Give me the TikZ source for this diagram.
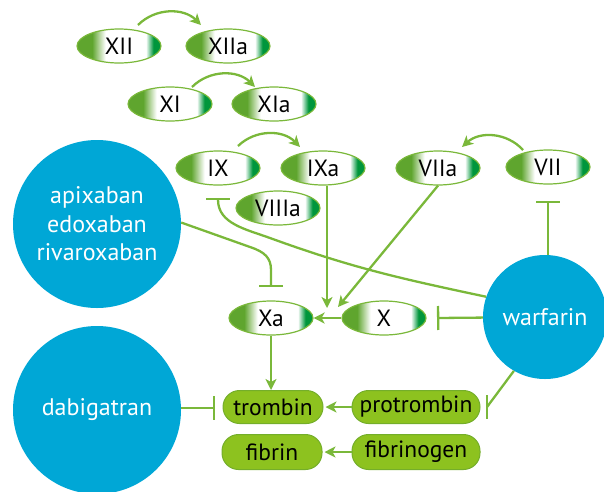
\documentclass[tikz,border=0pt]{standalone}
\usepackage{fontspec}
\setmainfont{PT Sans}
\usetikzlibrary{shapes.geometric,arrows.meta,calc}
\definecolor{lg}{HTML}{7AB83A}
\definecolor{gLeft}{HTML}{5FA52E}
\definecolor{gRight}{HTML}{00963C}
\definecolor{eborder}{HTML}{7AB83A}
\definecolor{pillg}{HTML}{8DC21F}
\definecolor{pillb}{HTML}{74AE2A}
\definecolor{dblue}{HTML}{00A7D6}
\pgfdeclarehorizontalshading{ellshade}{100bp}{color(0bp)=(gLeft); color(34bp)=(gLeft); color(42bp)=(white); color(66bp)=(white); color(70.5bp)=(gRight); color(100bp)=(gRight)}
\begin{document}
\begin{tikzpicture}[x=1pt,y=1pt,
  fac/.style={ellipse, minimum width=84pt, minimum height=34pt, inner sep=0pt,
    shade, shading=ellshade, draw=eborder, line width=1.2pt,
    font=\fontsize{23.5}{26}\selectfont},
  pill/.style={rectangle, rounded corners=16.5pt, minimum height=33pt, inner sep=0pt,
    fill=pillg, draw=pillb, line width=1pt, font=\fontsize{23.5}{26}\selectfont},
  drug/.style={circle, fill=dblue, text=white, inner sep=0pt, align=center,
    font=\fontsize{24}{28.5}\selectfont},
  lline/.style={draw=lg, line width=2.3pt},
  arr/.style={lline, -{Stealth[length=11pt,width=11pt,inset=3pt]}},
  tbar/.style={lline, -{Bar[width=24pt]}}
]
\useasboundingbox (0,0) rectangle (604,-491);
\node[drug, minimum size=168pt] (apix) at (97,-224) {apixaban\\edoxaban\\rivaroxaban};
\node[drug, minimum size=168pt] (dabig) at (97,-410) {dabigatran};
\node[drug, minimum size=124pt] (warf) at (545,-317) {warfarin};

\node[fac] (XII) at (119,-46) {XII};
\node[fac] (XIIa) at (228,-46) {XIIa};
\node[fac] (XI) at (170,-104) {XI};
\node[fac] (XIa) at (274,-104) {XIa};
\node[fac] (IX) at (218,-168) {IX};
\node[fac] (IXa) at (323,-168) {IXa};
\node[fac] (VIIIa) at (278,-208) {VIIIa};
\node[fac] (VIIa) at (438,-168) {VIIa};
\node[fac] (VII) at (548,-167) {VII};
\node[fac] (Xa) at (271,-318) {Xa};
\node[fac] (X) at (384,-318) {X};

\node[pill, minimum width=100pt] (trombin) at (273,-407) {trombin};
\node[pill, minimum width=128pt] (protrombin) at (416,-407) {protrombin};
\node[pill, minimum width=100pt, minimum height=35pt] (fibrin) at (272,-452) {fibrin};
\node[pill, minimum width=128pt, minimum height=35pt] (fibrinogen) at (416,-452) {fibrinogen};

\coordinate (jIX) at (327,-308);
\coordinate (jVII) at (338,-307);
\coordinate (tIX) at (218,-198);
\coordinate (tXa) at (271,-287);
\coordinate (tX) at (437,-318);
\coordinate (tVII) at (548,-201);
\coordinate (tT) at (215,-408);
\coordinate (tP) at (487,-407);

\draw[arr] ($(XII.center)+(19,21)$) to[bend left=45] ($(XIIa.center)+(-27,21)$);
\draw[arr] ($(XI.center)+(22,17)$) to[bend left=45] ($(XIa.center)+(-19,17)$);
\draw[arr] ($(IX.center)+(20,22)$) to[bend left=45] ($(IXa.center)+(-23,21)$);
\draw[arr] ($(VII.center)+(-25,17)$) to[bend right=45] ($(VIIa.center)+(24,21)$);

\draw[arr] (IXa.south -| jIX) -- (jIX);
\draw[arr] (VIIa.south) -- (jVII);
\draw[arr] (X.west) -- (Xa.east);
\draw[arr] (Xa.south) -- (Xa.south |- trombin.north);
\draw[arr, shorten >=2pt] (protrombin.west) -- (trombin.east);
\draw[arr, shorten >=2pt] (fibrinogen.west) -- (fibrin.east);

\draw[tbar] (warf) -- (tX);
\draw[tbar] (tVII |- warf.north) -- (tVII);
\draw[tbar] (tT -| dabig.east) -- (tT);
\draw[lline] (warf.240) -- (tP);
\draw[lline] ($(tP)+(0,12)$) -- ($(tP)+(0,-12)$);
\draw[tbar] (warf.161) to[out=168,in=-20] (270,-238) to[out=160,in=-90] (tIX);
\draw[tbar] (apix.1) -- (250,-247) .. controls (265,-252) and (271,-258) .. (271,-270) -- (tXa);
\end{tikzpicture}
\end{document}
